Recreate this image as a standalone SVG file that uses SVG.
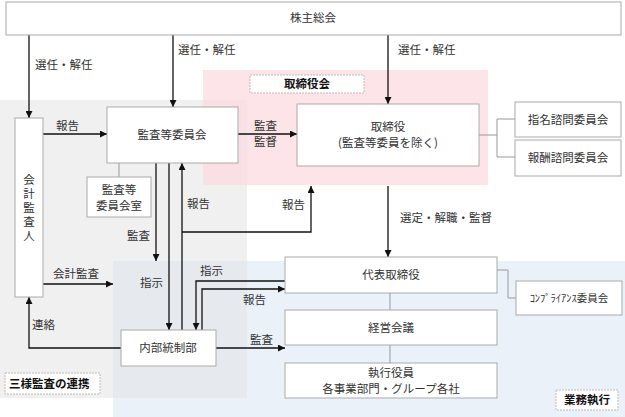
<svg xmlns="http://www.w3.org/2000/svg" width="625" height="417" viewBox="0 0 625 417">
<defs>
<marker id="ah" viewBox="0 0 10 10" refX="10" refY="5" markerWidth="7" markerHeight="7" markerUnits="userSpaceOnUse" orient="auto">
<path d="M0,0 L10,5 L0,10 z" fill="#111"/>
</marker>
</defs>
<style>
text{font-family:"Noto Sans CJK JP","Noto Sans",sans-serif;font-size:11.5px;fill:#333;}
.box{fill:#fff;stroke:#aaa;stroke-width:1;}
.lbl{fill:#fff;stroke:#bbb;stroke-width:1;stroke-dasharray:2 1;}
.b{font-weight:bold;fill:#111;}
.arr{fill:none;stroke:#111;stroke-width:1.3;marker-end:url(#ah);}
.ln{fill:none;stroke:#111;stroke-width:1.3;}
.gl{fill:none;stroke:#999;stroke-width:1;}
.c{text-anchor:middle;}
.v{writing-mode:vertical-rl;letter-spacing:2.5px;}
</style>
<rect width="625" height="417" fill="#fff"/>
<g id="regions">
<rect x="113" y="261" width="512" height="156" fill="#ebf1f9"/>
<rect x="0" y="100" width="247" height="298" fill="#e2e2e2" fill-opacity="0.5"/>
<rect x="203" y="70" width="285" height="115" fill="#fbd9de" fill-opacity="0.7"/>
</g>
<g id="labels">
<rect class="lbl" x="250" y="75" width="114" height="18"/>
<text class="b c" x="307" y="88">取締役会</text>
<rect class="lbl" x="5" y="373" width="95" height="21"/>
<text class="b" x="9" y="388">三様監査の連携</text>
<rect class="lbl" x="556" y="390" width="62" height="20"/>
<text class="b c" x="587" y="404">業務執行</text>
</g>
<g id="connectors">
<path class="arr" d="M29,35 V118"/>
<path class="arr" d="M173,35 V107"/>
<path class="arr" d="M388,35 V104"/>
<path class="arr" d="M43,134 H107"/>
<path class="arr" d="M238,134 H297"/>
<path class="gl" d="M119,163 V177"/>
<path class="gl" d="M479,135 H497 M497,119 V157 M497,119 H515 M497,157 H515"/>
<path class="arr" d="M388,186 V257"/>
<path class="arr" d="M156,163 V261"/>
<path class="arr" d="M169,163 V330"/>
<path class="arr" d="M182,330 V163"/>
<path class="arr" d="M182,232 H311 V186"/>
<path class="arr" d="M285,281 H196 V330"/>
<path class="arr" d="M202,330 V289 H285"/>
<path class="arr" d="M216,348 H285"/>
<path class="arr" d="M121,348 H29 V297"/>
<path class="arr" d="M43,284 H113"/>
<path class="gl" d="M390,293 V310 M390,345 V363"/>
<path class="gl" d="M497,270 H508 V298 H516"/>
</g>
<g id="conn-labels">
<text x="35" y="69">選任・解任</text>
<text x="178" y="54">選任・解任</text>
<text x="398" y="54">選任・解任</text>
<text x="56" y="130">報告</text>
<text x="254" y="130">監査</text>
<text x="254" y="146">監督</text>
<text x="400" y="222">選定・解職・監督</text>
<text x="187" y="208">報告</text>
<text x="282" y="209">報告</text>
<text x="127" y="240">監査</text>
<text x="140" y="287">指示</text>
<text x="200" y="275">指示</text>
<text x="243" y="304">報告</text>
<text x="250" y="344">監査</text>
<text x="32" y="329">連絡</text>
<text x="53" y="278">会計監査</text>
</g>
<g id="n-kabunushi">
<rect class="box" x="6" y="2" width="615" height="33"/>
<text class="c" x="313" y="22">株主総会</text>
</g>
<g id="n-kaikei">
<rect class="box" x="15" y="118" width="28" height="179"/>
<text class="v" x="29" y="174">会計監査人</text>
</g>
<g id="n-kansa">
<rect class="box" x="107" y="107" width="131" height="56"/>
<text class="c" x="172" y="139">監査等委員会</text>
</g>
<g id="n-kansashitsu">
<rect class="box" x="87" y="177" width="64" height="40"/>
<text class="c" x="119" y="194">監査等</text>
<text class="c" x="119" y="210">委員会室</text>
</g>
<g id="n-torishimari">
<rect class="box" x="297" y="104" width="182" height="62"/>
<text class="c" x="388" y="131">取締役</text>
<text class="c" x="388" y="147">(監査等委員を除く)</text>
</g>
<g id="n-shimei">
<rect class="box" x="515" y="102" width="106" height="35"/>
<text class="c" x="568" y="124">指名諮問委員会</text>
</g>
<g id="n-hoshu">
<rect class="box" x="515" y="140" width="106" height="36"/>
<text class="c" x="568" y="162">報酬諮問委員会</text>
</g>
<g id="n-daihyo">
<rect class="box" x="285" y="257" width="212" height="36"/>
<text class="c" x="391" y="279">代表取締役</text>
</g>
<g id="n-keiei">
<rect class="box" x="285" y="310" width="212" height="35"/>
<text class="c" x="391" y="332">経営会議</text>
</g>
<g id="n-shikko">
<rect class="box" x="285" y="363" width="212" height="35"/>
<text class="c" x="391" y="377">執行役員</text>
<text class="c" x="391" y="393">各事業部門・グループ各社</text>
</g>
<g id="n-compliance">
<rect class="box" x="516" y="281" width="106" height="34"/>
<text class="c" x="569" y="302" style="font-size:10.5px">ｺﾝﾌﾟﾗｲｱﾝｽ委員会</text>
</g>
<g id="n-naibu">
<rect class="box" x="121" y="330" width="95" height="36"/>
<text class="c" x="168" y="352">内部統制部</text>
</g>
</svg>
